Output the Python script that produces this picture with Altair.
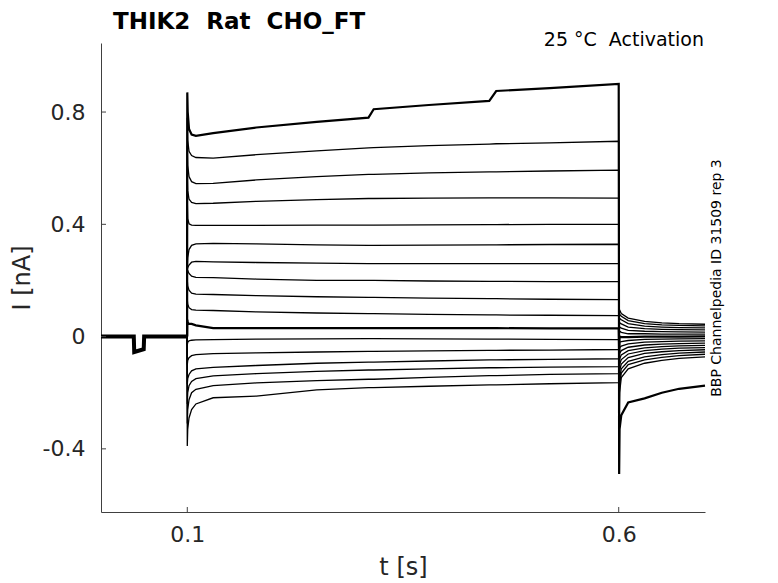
import pandas as pd
import altair as alt

# sweep timing (s)
t_pre = [0.0, 0.038, 0.0385, 0.0495, 0.05, 0.0998]
i_pre = [0.0, 0.0, -0.055, -0.045, 0.0, 0.0]
t_step = [0.1, 0.1005, 0.102, 0.105, 0.11, 0.13, 0.18, 0.25, 0.31, 0.316,
          0.38, 0.45, 0.458, 0.52, 0.6]
t_tail = [0.6005, 0.601, 0.603, 0.611, 0.63, 0.65, 0.67, 0.7]

# current during the voltage step (nA), one list per sweep, top to bottom
step_01 = [0.87, 0.80, 0.74, 0.72, 0.715, 0.725, 0.745, 0.765, 0.78, 0.81, 0.825, 0.84, 0.875, 0.885, 0.90]
step_02 = [0.78, 0.70, 0.66, 0.645, 0.638, 0.636, 0.648, 0.662, 0.672, 0.673, 0.68, 0.686, 0.687, 0.69, 0.696]
step_03 = [0.68, 0.61, 0.57, 0.552, 0.545, 0.546, 0.558, 0.57, 0.578, 0.578, 0.583, 0.587, 0.587, 0.59, 0.593]
step_04 = [0.58, 0.52, 0.49, 0.478, 0.474, 0.475, 0.482, 0.488, 0.492, 0.492, 0.493, 0.494, 0.494, 0.494, 0.493]
step_05 = [0.48, 0.42, 0.402, 0.397, 0.396, 0.396, 0.396, 0.397, 0.397, 0.397, 0.398, 0.399, 0.399, 0.40, 0.40]
step_06 = [0.24, 0.28, 0.31, 0.325, 0.33, 0.332, 0.33, 0.327, 0.325, 0.325, 0.326, 0.327, 0.327, 0.328, 0.329]
step_07 = [0.24, 0.245, 0.255, 0.265, 0.268, 0.266, 0.264, 0.262, 0.26, 0.26, 0.26, 0.26, 0.26, 0.26, 0.26]
step_08 = [0.24, 0.235, 0.225, 0.215, 0.211, 0.21, 0.205, 0.20, 0.20, 0.20, 0.198, 0.197, 0.197, 0.196, 0.196]
step_09 = [0.20, 0.18, 0.165, 0.155, 0.151, 0.15, 0.146, 0.142, 0.14, 0.14, 0.137, 0.135, 0.135, 0.133, 0.132]
step_10 = [0.13, 0.115, 0.103, 0.096, 0.094, 0.093, 0.088, 0.084, 0.082, 0.082, 0.079, 0.077, 0.077, 0.076, 0.075]
step_11 = [0.06, 0.05, 0.045, 0.045, 0.04, 0.03, 0.03, 0.03, 0.03, 0.03, 0.03, 0.03, 0.03, 0.029, 0.029]
step_12 = [-0.03, -0.02, -0.015, -0.013, -0.012, -0.011, -0.009, -0.008, -0.007, -0.007, -0.008, -0.009, -0.009, -0.01, -0.011]
step_13 = [-0.10, -0.085, -0.075, -0.068, -0.064, -0.061, -0.058, -0.055, -0.053, -0.053, -0.051, -0.049, -0.049, -0.048, -0.046]
step_14 = [-0.17, -0.15, -0.135, -0.122, -0.115, -0.11, -0.103, -0.095, -0.091, -0.091, -0.087, -0.083, -0.083, -0.081, -0.079]
step_15 = [-0.24, -0.20, -0.175, -0.16, -0.15, -0.14, -0.132, -0.124, -0.119, -0.119, -0.115, -0.111, -0.111, -0.109, -0.107]
step_16 = [-0.31, -0.26, -0.225, -0.20, -0.188, -0.175, -0.165, -0.157, -0.152, -0.152, -0.145, -0.139, -0.139, -0.135, -0.132]
step_17 = [-0.39, -0.33, -0.29, -0.26, -0.24, -0.218, -0.212, -0.19, -0.182, -0.182, -0.177, -0.172, -0.172, -0.168, -0.164]

# tail current back at holding potential (nA)
tail_01 = [-0.49, -0.33, -0.28, -0.235, -0.22, -0.20, -0.186, -0.175]
tail_02 = [-0.42, -0.20, -0.146, -0.115, -0.095, -0.085, -0.078, -0.072]
tail_03 = [-0.38, -0.17, -0.13, -0.10, -0.083, -0.074, -0.068, -0.063]
tail_04 = [-0.34, -0.15, -0.115, -0.088, -0.072, -0.064, -0.059, -0.055]
tail_05 = [-0.30, -0.12, -0.098, -0.075, -0.06, -0.054, -0.05, -0.047]
tail_06 = [-0.26, -0.10, -0.082, -0.062, -0.05, -0.045, -0.041, -0.039]
tail_07 = [-0.22, -0.08, -0.065, -0.05, -0.04, -0.036, -0.033, -0.031]
tail_08 = [-0.18, -0.06, -0.05, -0.038, -0.03, -0.027, -0.025, -0.023]
tail_09 = [-0.14, -0.04, -0.034, -0.026, -0.02, -0.018, -0.016, -0.015]
tail_10 = [-0.10, -0.02, -0.018, -0.014, -0.01, -0.009, -0.008, -0.007]
tail_11 = [-0.06, 0.0, -0.002, -0.002, 0.0, 0.0, 0.0, 0.001]
tail_12 = [-0.02, 0.02, 0.015, 0.01, 0.01, 0.009, 0.009, 0.009]
tail_13 = [0.0, 0.035, 0.03, 0.022, 0.019, 0.018, 0.017, 0.016]
tail_14 = [0.02, 0.05, 0.045, 0.034, 0.028, 0.026, 0.025, 0.024]
tail_15 = [0.04, 0.065, 0.06, 0.046, 0.037, 0.034, 0.032, 0.031]
tail_16 = [0.06, 0.08, 0.072, 0.057, 0.046, 0.042, 0.04, 0.038]
tail_17 = [0.08, 0.095, 0.082, 0.066, 0.054, 0.049, 0.046, 0.044]

steps = [step_01, step_02, step_03, step_04, step_05, step_06, step_07, step_08, step_09,
         step_10, step_11, step_12, step_13, step_14, step_15, step_16, step_17]
tails = [tail_01, tail_02, tail_03, tail_04, tail_05, tail_06, tail_07, tail_08, tail_09,
         tail_10, tail_11, tail_12, tail_13, tail_14, tail_15, tail_16, tail_17]
noisy_sweeps = [1, 11]

x_ticks = [0.1, 0.6]
y_ticks = [-0.4, 0, 0.4, 0.8]

W, H = 604, 469
FONT = "DejaVu Sans"

rows = []
for k, (s, tl) in enumerate(zip(steps, tails), start=1):
    rows.append({"sweep": k, "t": t_pre[-1], "i": i_pre[-1]})
    rows += [{"sweep": k, "t": t, "i": v} for t, v in zip(t_step, s)]
    rows += [{"sweep": k, "t": t, "i": v} for t, v in zip(t_tail, tl)]
df = pd.DataFrame(rows)
pre = pd.DataFrame({"t": t_pre, "i": i_pre})

xs = alt.Scale(domain=[0, 0.7], nice=False, zero=False)
ys = alt.Scale(domain=[-0.625, 1.046], nice=False, zero=False)

x_enc = alt.X("t:Q", scale=xs, title="t [s]",
              axis=alt.Axis(values=x_ticks, format=".1f", labelPadding=12, titlePadding=10))
y_enc = alt.Y("i:Q", scale=ys, title="I [nA]",
              axis=alt.Axis(values=y_ticks, labelPadding=16, titlePadding=8,
                            labelExpr="datum.value == 0 ? '0' : (datum.value < 0 ? '-' + format(-datum.value, '.1f') : format(datum.value, '.1f'))"))

sweeps = alt.Chart(df).mark_line(color="black").encode(
    x=x_enc,
    y=y_enc,
    detail="sweep:N",
    strokeWidth=alt.condition(
        alt.FieldOneOfPredicate(field="sweep", oneOf=noisy_sweeps),
        alt.value(2.2), alt.value(1.3)),
)

baseline = alt.Chart(pre).mark_line(color="black", strokeWidth=4).encode(x="t:Q", y="i:Q")

ytick_rules = alt.Chart(pd.DataFrame({"v": y_ticks})).mark_rule(color="#404040").encode(
    y="v:Q", x=alt.value(0), x2=alt.value(5))
xtick_rules = alt.Chart(pd.DataFrame({"v": x_ticks})).mark_rule(color="#404040").encode(
    x="v:Q", y=alt.value(H), y2=alt.value(H - 5))

title = alt.Chart(pd.DataFrame({"s": ["THIK2\u00a0 Rat\u00a0 CHO_FT"]})).mark_text(
    font=FONT, fontSize=23, fontWeight="bold", align="left", baseline="alphabetic",
    color="black").encode(text="s:N", x=alt.value(12), y=alt.value(-14))
cond_label = alt.Chart(pd.DataFrame({"s": ["25 \u00b0C\u00a0 Activation"]})).mark_text(
    font=FONT, fontSize=19, align="right", baseline="middle", color="black").encode(
    text="s:N", x=alt.value(603), y=alt.value(-3))
id_label = alt.Chart(pd.DataFrame({"s": ["BBP Channelpedia ID 31509 rep 3"]})).mark_text(
    font=FONT, fontSize=14, angle=270, align="center", baseline="middle", color="black").encode(
    text="s:N", x=alt.value(616), y=alt.value(235))

chart = (baseline + sweeps + ytick_rules + xtick_rules + title + cond_label + id_label).properties(
    width=W,
    height=H,
    autosize=alt.AutoSizeParams(type="none"),
    padding={"left": 93, "top": 35, "right": 65, "bottom": 68},
).configure_axis(
    grid=False, ticks=False, tickSize=0, domainColor="#404040", domainWidth=1,
    labelFont=FONT, labelFontSize=22, labelColor="#262626",
    titleFont=FONT, titleFontSize=24, titleFontWeight="normal", titleColor="#262626",
).configure_view(stroke="transparent")

chart.save("out.html", embed_options={"renderer": "svg", "actions": False})
